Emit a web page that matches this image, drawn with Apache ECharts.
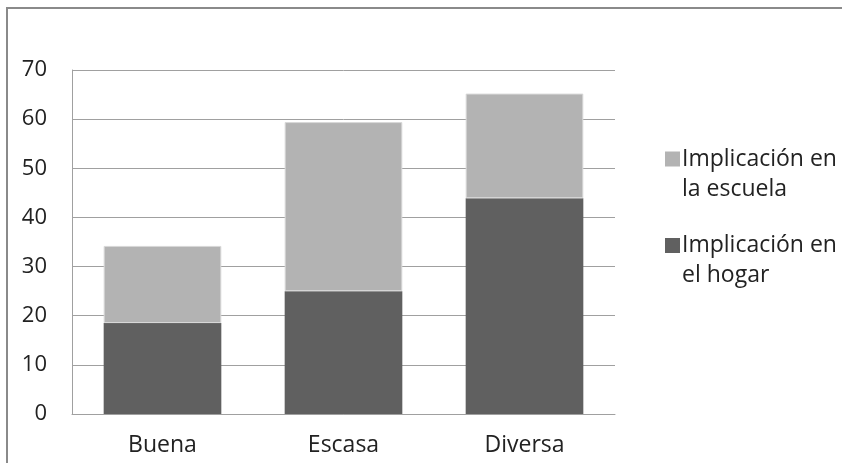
<!DOCTYPE html>
<html><head><meta charset="utf-8">
<script src="https://cdn.jsdelivr.net/npm/echarts@6/dist/echarts.min.js"></script>
<style>html,body{margin:0;padding:0;background:#fff}#c{width:842px;height:463px}</style>
</head><body><div id="c"></div>
<script>
const categories = ['Buena', 'Escasa', 'Diversa'];
const hogar = [18.5, 25.0, 43.9];
const escuela = [15.7, 34.4, 21.3];
const seriesNames = ['Implicación en el hogar', 'Implicación en la escuela'];
const legendLines = {'Implicación en el hogar': ['Implicación en', 'el hogar'], 'Implicación en la escuela': ['Implicación en', 'la escuela']};

const chart = echarts.init(document.getElementById('c'), null, {renderer: 'canvas'});
const font = '"Open Sans", sans-serif';
chart.setOption({
  animation: false,
  backgroundColor: '#fff',
  textStyle: {fontFamily: font},
  graphic: [{type: 'rect', shape: {x: 7, y: 8, width: 900, height: 500},
    style: {fill: 'none', stroke: '#8a8a8a', lineWidth: 2}, z: -1}],
  grid: {left: 72, right: 227, top: 70, bottom: 49},
  legend: {
    orient: 'vertical', left: 660, top: 119,
    data: [seriesNames[1], seriesNames[0]],
    itemWidth: 15, itemHeight: 15, itemGap: 10, icon: 'rect',
    itemStyle: {borderWidth: 0},
    formatter: n => '{e| }\n{a|' + legendLines[n][0] + '}\n{a|' + legendLines[n][1] + '}',
    textStyle: {
      fontFamily: font, color: '#222',
      rich: {
        e: {fontSize: 10, lineHeight: 30},
        a: {fontSize: 23, lineHeight: 30, color: '#222', fontFamily: font, padding: [0, 0, 0, -3]}
      }
    }
  },
  xAxis: {
    type: 'category', data: categories,
    axisLine: {lineStyle: {color: '#a0a0a0', width: 1}},
    axisTick: {show: false},
    axisLabel: {fontSize: 23, color: '#222', margin: 20, fontFamily: font}
  },
  yAxis: {
    type: 'value', min: 0, max: 70, interval: 10,
    axisLine: {show: true, lineStyle: {color: '#a0a0a0'}},
    axisTick: {show: false},
    splitLine: {lineStyle: {color: '#a0a0a0', width: 1}},
    axisLabel: {fontSize: 22, color: '#222', margin: 25, fontFamily: font}
  },
  series: [
    {name: seriesNames[0], type: 'bar', stack: 's', data: hogar, barWidth: '65%',
      itemStyle: {color: '#606060'}},
    {name: seriesNames[1], type: 'bar', stack: 's', data: escuela, barWidth: '65%',
      itemStyle: {color: '#b3b3b3', borderColor: '#d8d8d8', borderWidth: 1}}
  ]
});
</script></body></html>
